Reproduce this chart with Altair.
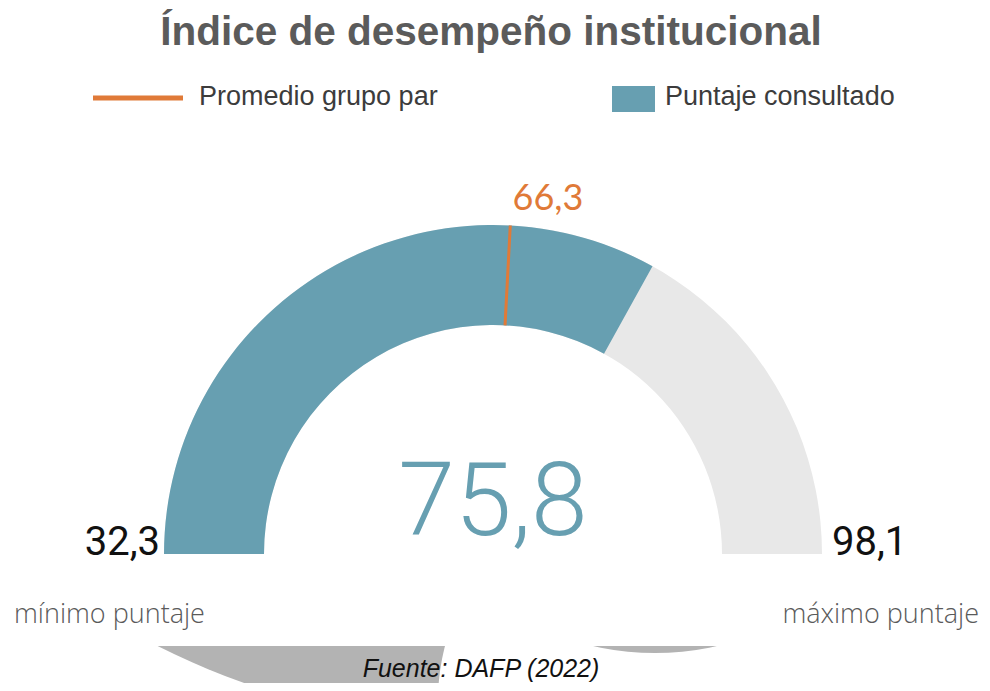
import math
import altair as alt
import pandas as pd

# ---- data ----
minimo = 32.3
maximo = 98.1
puntaje = 75.8
promedio = 66.3

titulo = "Índice de desempeño institucional"
leyenda = ["Promedio grupo par", "Puntaje consultado"]
etiquetas_extremos = ["mínimo puntaje", "máximo puntaje"]
fuente = "Fuente: DAFP (2022)"

TEAL = "#679fb1"
ORANGE = "#e07a38"
LIGHT = "#e8e8e8"
SHADOW = "#b3b3b3"


def fmt(v):
    return f"{v:.1f}".replace(".", ",")


one = pd.DataFrame({"k": [0]})
theta_scale = alt.Scale(domain=[minimo, maximo], range=[-math.pi / 2, math.pi / 2])

CX, CY = 485, 546
R_OUT, R_IN = 329, 229

# decorative grey shadow at bottom
shadow_a = alt.Chart(one).mark_arc(radius=760, theta=0, theta2=2 * math.pi, color=SHADOW).encode(
    x=alt.value(491), y=alt.value(-41))
shadow_w = alt.Chart(one).mark_arc(radius=212, theta=0, theta2=2 * math.pi, color="white").encode(
    x=alt.value(642), y=alt.value(692))
shadow_b = alt.Chart(one).mark_arc(radius=278, theta=0, theta2=2 * math.pi, color=SHADOW).encode(
    x=alt.value(647), y=alt.value(367))
cover = alt.Chart(one).mark_rect(color="white").encode(
    x=alt.value(-10), x2=alt.value(990), y=alt.value(-10), y2=alt.value(638))

gauge_df = pd.DataFrame({"inicio": [minimo], "fin": [maximo]})
value_df = pd.DataFrame({"inicio": [minimo], "fin": [puntaje]})
prom_df = pd.DataFrame({"inicio": [promedio], "fin": [promedio]})

bg = alt.Chart(gauge_df).mark_arc(radius=R_OUT, radius2=R_IN, color=LIGHT).encode(
    theta=alt.Theta("inicio:Q", scale=theta_scale, stack=False),
    theta2="fin:Q",
    x=alt.value(CX), y=alt.value(CY))
val = alt.Chart(value_df).mark_arc(radius=R_OUT, radius2=R_IN, color=TEAL).encode(
    theta=alt.Theta("inicio:Q", scale=theta_scale, stack=False),
    theta2="fin:Q",
    x=alt.value(CX), y=alt.value(CY))
prom = alt.Chart(prom_df).mark_arc(radius=R_OUT, radius2=R_IN, stroke=ORANGE, strokeWidth=3, color=ORANGE).encode(
    theta=alt.Theta("inicio:Q", scale=theta_scale, stack=False),
    theta2="fin:Q",
    x=alt.value(CX), y=alt.value(CY))


def txt(text, x, y, size, color, align="center", font="Liberation Sans", weight="normal", style="normal"):
    return alt.Chart(one).mark_text(
        text=text, fontSize=size, color=color, align=align, baseline="alphabetic",
        font=font, fontWeight=weight, fontStyle=style
    ).encode(x=alt.value(x), y=alt.value(y))


title_t = txt(titulo, 483, 37, 40.5, "#5b5b5b", weight="bold")
leg_line = alt.Chart(one).mark_rule(color=ORANGE, strokeWidth=5).encode(
    x=alt.value(85), x2=alt.value(175), y=alt.value(90))
leg_t1 = txt(leyenda[0], 191, 97, 27, "#3c3c3c", align="left")
leg_sq = alt.Chart(one).mark_rect(color=TEAL).encode(
    x=alt.value(604), x2=alt.value(647), y=alt.value(78), y2=alt.value(104))
leg_t2 = txt(leyenda[1], 657, 97, 27, "#3c3c3c", align="left")

prom_t = txt(fmt(promedio), 540, 202, 36, ORANGE, font="Lato")
val_t = txt(fmt(puntaje), 485, 527, 102, TEAL, font="Roboto", weight=300)
min_t = txt(fmt(minimo), 152, 547, 40, "#111111", align="right", font="Roboto", weight=400)
max_t = txt(fmt(maximo), 824, 547, 40, "#111111", align="left", font="Roboto", weight=400)
min_l = txt(etiquetas_extremos[0], 6, 615, 27, "#5a5a5a", align="left", font="Open Sans", weight=300)
max_l = txt(etiquetas_extremos[1], 971, 615, 27, "#5a5a5a", align="right", font="Open Sans", weight=300)
src_t = txt(fuente, 473, 669, 25, "#111111", style="italic")

chart = alt.layer(
    shadow_a, shadow_w, shadow_b, cover,
    bg, val, prom,
    title_t, leg_line, leg_t1, leg_sq, leg_t2,
    prom_t, val_t, min_t, max_t, min_l, max_l, src_t,
).properties(
    width=974, height=675, padding=0, autosize=alt.AutoSizeParams(type="none")
).configure_view(strokeWidth=0)

chart.save("out.html", embed_options={"renderer": "svg", "actions": False})
